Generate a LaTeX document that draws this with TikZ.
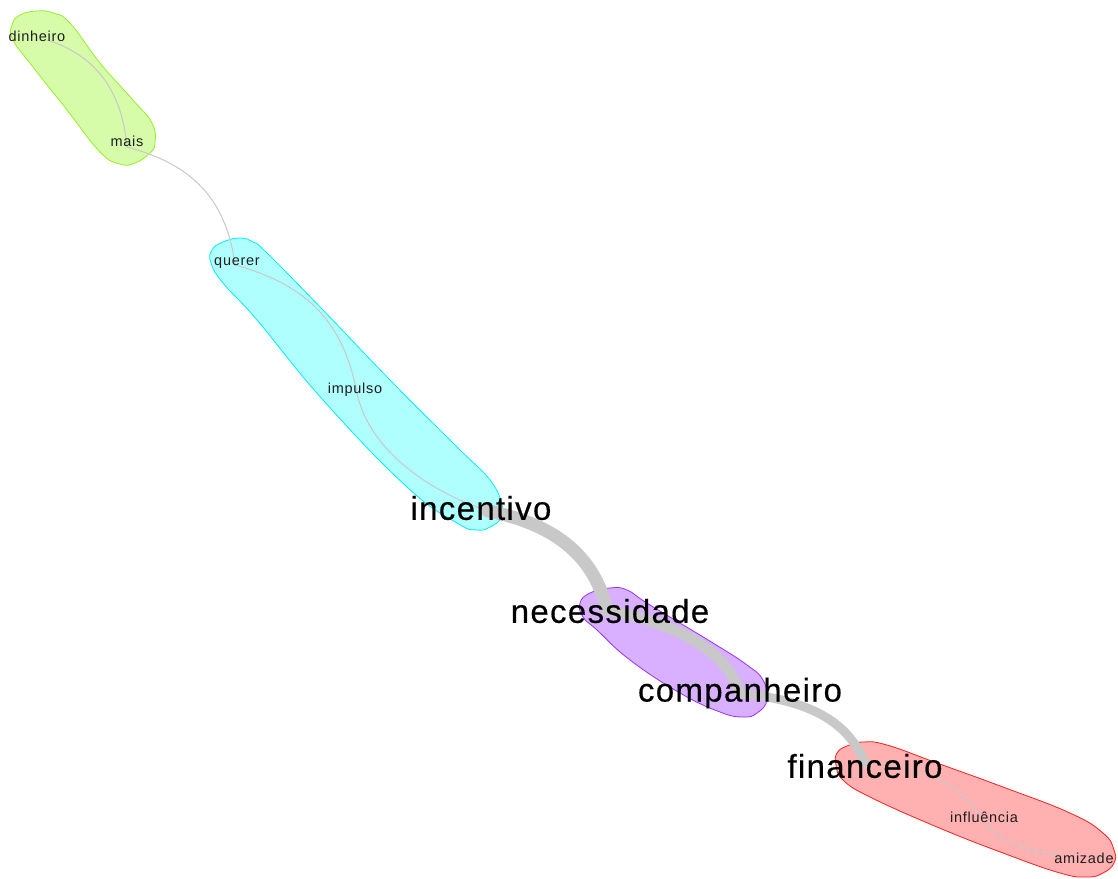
\documentclass[tikz,border=0pt]{standalone}
\usepackage{fontspec}
\newfontfamily\smallfam[LetterSpace=5]{Liberation Sans}
\newfontfamily\bigfam[LetterSpace=4,FakeBold=0.4]{Liberation Sans}
\definecolor{edgegray}{RGB}{200,200,200}
\definecolor{grfill}{RGB}{214,252,170}
\definecolor{grline}{RGB}{150,240,40}
\definecolor{cyfill}{RGB}{176,255,255}
\definecolor{cyline}{RGB}{0,238,238}
\definecolor{pufill}{RGB}{216,176,255}
\definecolor{puline}{RGB}{150,50,255}
\definecolor{rdfill}{RGB}{255,176,176}
\definecolor{rdline}{RGB}{255,30,30}
\definecolor{labelgray}{RGB}{30,30,30}
\tikzset{
  hull/.style={line width=0.8pt},
  thin edge/.style={draw=edgegray, line width=1pt},
  thick edge/.style={draw=edgegray, line cap=round},
  small label/.style={font=\smallfam\fontsize{14.5}{14.5}\selectfont, text=labelgray, inner sep=0pt},
  big label/.style={font=\bigfam\fontsize{33}{33}\selectfont, text=black, inner sep=0pt},
}
\begin{document}
\begin{tikzpicture}[x=1pt,y=-1pt]
\useasboundingbox (0,0) rectangle (1118,878);

% group outlines
\draw[hull, fill=grfill, draw=grline] plot[smooth cycle, tension=0.75] coordinates {
  (12,25) (20,15) (37,11) (53,13) (70,23) (100,63) (133,100) (152,123)
  (155,143) (150,153) (135,163) (120,164) (100,152) (67,110) (33,67) (13,40)};
\draw[hull, fill=cyfill, draw=cyline] plot[smooth cycle, tension=0.75] coordinates {
  (212,250) (223,242) (240,238) (253,242) (267,253) (323,310) (390,380) (457,447)
  (490,480) (502,505) (501,518) (490,527) (477,530) (457,523) (407,487) (323,400)
  (257,320) (223,283) (211,263)};
\draw[hull, fill=pufill, draw=puline] plot[smooth cycle, tension=0.75] coordinates {
  (580,603) (590,593) (610,588) (627,590) (650,605) (713,643) (747,665) (763,680)
  (767,700) (757,713) (743,717) (720,712) (680,693) (630,660) (597,630) (583,617)};
\draw[hull, fill=rdfill, draw=rdline] plot[smooth cycle, tension=0.75] coordinates {
  (837,753) (847,746) (863,742) (887,745) (937,763) (1003,787) (1070,813) (1103,833)
  (1114,850) (1114,863) (1103,873) (1087,877) (1060,873) (1003,853) (937,827)
  (870,797) (843,780) (836,765)};

% vertex points
\coordinate (v-dinheiro) at (47,40);
\coordinate (v-mais) at (127,147);
\coordinate (v-querer) at (235,265);
\coordinate (v-impulso) at (357,393);
\coordinate (v-incentivo) at (488,511);
\coordinate (v-necessidade) at (607,610);
\coordinate (v-companheiro) at (740,693);
\coordinate (v-financeiro) at (865,763);
\coordinate (v-influencia) at (983,820);
\coordinate (v-amizade) at (1060,855);

% connectors
\draw[thin edge] (v-dinheiro) .. controls (95,55) and (122,90) .. (v-mais);
\draw[thin edge] (v-mais) .. controls (175,160) and (225,185) .. (v-querer);
\draw[thin edge] (v-querer) .. controls (300,283) and (342,315) .. (v-impulso);
\draw[thin edge] (v-impulso) .. controls (368,445) and (420,488) .. (v-incentivo);
\draw[thick edge, line width=13pt] (v-incentivo) .. controls (560,525) and (595,560) .. (v-necessidade);
\draw[thick edge, line width=11pt] (v-necessidade) .. controls (680,625) and (725,650) .. (v-companheiro);
\draw[thick edge, line width=9pt] (v-companheiro) .. controls (800,700) and (845,715) .. (v-financeiro);
\draw[thin edge] (v-financeiro) .. controls (930,765) and (965,790) .. (v-influencia);
\draw[thin edge] (v-influencia) .. controls (995,840) and (1030,852) .. (v-amizade);

% labels
\node[small label] (dinheiro) at (37,36) {dinheiro};
\node[small label] (mais) at (127,141) {mais};
\node[small label] (querer) at (237,263) {querer};
\node[small label] (impulso) at (355,390) {impulso};
\node[big label] (incentivo) at (481,508) {incentivo};
\node[big label] (necessidade) at (610,611) {necessidade};
\node[big label] (companheiro) at (740,693) {companheiro};
\node[big label] (financeiro) at (865,766) {financeiro};
\node[small label] (influencia) at (984,817) {influência};
\node[small label] (amizade) at (1084,858) {amizade};
\end{tikzpicture}
\end{document}
